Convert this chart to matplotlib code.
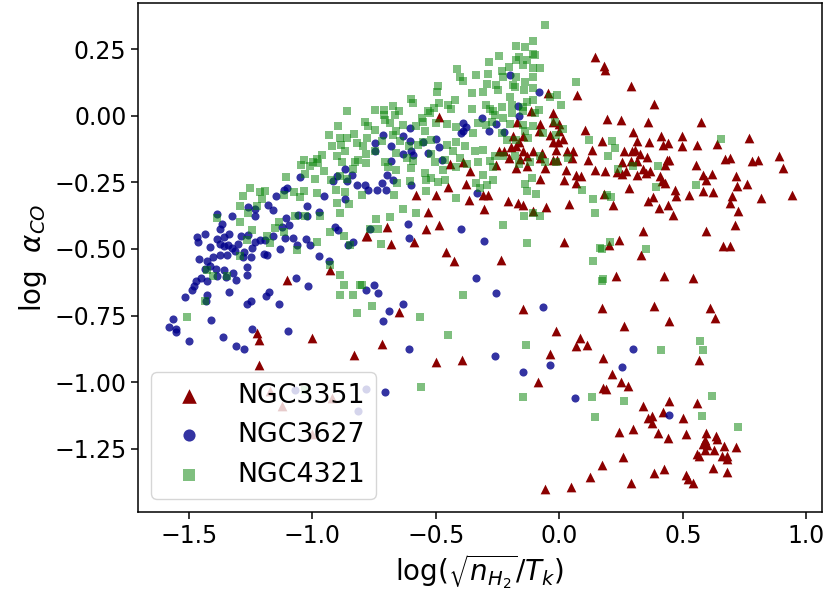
import matplotlib
matplotlib.use("Agg")
import matplotlib.pyplot as plt

# NGC3351 (triangles)
ngc3351_x = [-0.783, -0.928, -1.101, -1.225, -1.218, -1.003, -1.218, -0.831, -1.171, -1.124, -0.922, -1.003,
             -0.046, 0.072, -0.488, -0.116, -0.028, -0.028, -0.171, -0.079, -0.001, -0.082, -0.001, -0.039,
             0.015, -0.190, -0.147, -0.163, -0.025, -0.005, -0.244, -0.225, -0.198, -0.174, -0.147, -0.106,
             -0.072, -0.012, 0.029, 0.056, -0.203, -0.160, -0.133, -0.079, -0.028, -0.009, 0.049, -0.444,
             -0.392, -0.257, -0.133, -0.059, 0.026, -0.363, -0.174, -0.079, 0.069,
             0.144, 0.181, 0.185, 0.289, 0.383, 0.103, 0.132, 0.115, 0.144,
             0.191, 0.248, 0.357, 0.573, 0.299, 0.171, 0.312, 0.364, 0.410, 0.420, 0.441, 0.497,
             0.495, 0.555, 0.636, 0.769, 0.261, 0.292, 0.306, 0.326, 0.353, 0.252, 0.288, 0.312,
             0.434, 0.445, 0.427, 0.670, 0.690, 0.778, 0.805, 0.890, 0.904, 0.553, 0.184, 0.231,
             0.252, 0.269, 0.315, 0.337, 0.350, 0.366, 0.407, 0.414, 0.427, 0.582, 0.616, 0.593,
             0.715, 0.758, 0.717, 0.283, 0.180, 0.468, 0.472, 0.526, 0.580, 0.623, 0.697, 0.690,
             0.817, 0.941, 0.380, 0.360, 0.218, 0.404, 0.441, 0.461, 0.724, 0.711, 0.339, 0.593,
             0.242, 0.202, 0.329, 0.663, 0.690, 0.229, 0.423, 0.542,
             0.171, 0.383, 0.609, 0.630, 0.261, 0.443, 0.175, 0.566, 0.211, 0.248, 0.279, 0.175,
             0.188, 0.337, 0.445, 0.418, 0.360, 0.373, 0.373, 0.499, 0.555, 0.242, 0.296, 0.400,
             0.441, 0.512, 0.593, 0.589, 0.582, 0.596, 0.634, 0.639, 0.666, 0.715, 0.626, 0.589,
             0.555, 0.566, 0.657, 0.677, 0.680, 0.256, 0.171, 0.620, 0.677, 0.423, 0.383, 0.512,
             0.522, 0.542, 0.288,
             -0.581, -0.500, -0.453, -0.379, -0.365, -0.309, -0.288, -0.305, -0.534, -0.487, -0.541, -0.697,
             -0.778, -0.680, -0.589, -0.460, -0.427, -0.238, -0.207, -0.167, -0.147, -0.106, -0.055, 0.018,
             0.069, 0.089, 0.040, 0.019, -0.649, -0.149, -0.014, 0.085, 0.110, 0.069, -0.720,
             -0.500, -0.396, -0.039, -0.086, 0.123, 0.046, -0.059]
ngc3351_y = [-0.450, -0.580, -0.615, -0.815, -0.843, -0.836, -0.937, -0.899, -1.034, -1.090, -1.059, -1.196,
             0.085, 0.079, -0.003, 0.019, 0.010, -0.022, -0.022, -0.032, -0.032, -0.059, -0.057, -0.072,
             -0.087, -0.075, -0.078, -0.097, -0.097, -0.097, -0.132, -0.134, -0.119, -0.115, -0.134, -0.134,
             -0.140, -0.128, -0.134, -0.134, -0.157, -0.162, -0.153, -0.157, -0.165, -0.165, -0.157, -0.182,
             -0.172, -0.184, -0.187, -0.197, -0.203, -0.209, -0.197, -0.237, -0.222,
             0.222, 0.185, 0.172, 0.112, 0.043, -0.052, -0.127, -0.165, -0.202,
             -0.013, -0.018, -0.025, -0.023, -0.063, -0.096, -0.096, -0.100, -0.075, -0.109, -0.103, -0.075,
             -0.113, -0.109, -0.105, -0.084, -0.134, -0.134, -0.128, -0.143, -0.155, -0.175, -0.171, -0.171,
             -0.165, -0.165, -0.184, -0.163, -0.159, -0.171, -0.168, -0.153, -0.196, -0.184, -0.206, -0.213,
             -0.218, -0.209, -0.221, -0.200, -0.215, -0.209, -0.228, -0.246, -0.253, -0.221, -0.218, -0.243,
             -0.228, -0.256, -0.263, -0.271, -0.293, -0.280, -0.300, -0.296, -0.281, -0.288, -0.300, -0.328,
             -0.310, -0.298, -0.305, -0.321, -0.336, -0.346, -0.334, -0.371, -0.356, -0.409, -0.434, -0.434,
             -0.465, -0.484, -0.521, -0.488, -0.488, -0.600, -0.603, -0.609,
             -0.721, -0.713, -0.721, -0.759, -0.788, -0.771, -0.909, -0.918, -0.969, -1.000, -1.015, -1.021,
             -1.025, -1.090, -1.071, -1.113, -1.134, -1.128, -1.153, -1.134, -1.078, -1.188, -1.175, -1.190,
             -1.209, -1.193, -1.190, -1.215, -1.230, -1.234, -1.200, -1.213, -1.238, -1.243, -1.255, -1.253,
             -1.268, -1.278, -1.278, -1.278, -1.288, -1.280, -1.309, -1.321, -1.338, -1.325, -1.340, -1.350,
             -1.363, -1.378, -1.380,
             -0.299, -0.296, -0.269, -0.256, -0.315, -0.299, -0.299, -0.349, -0.361, -0.411, -0.424, -0.417,
             -0.452, -0.481, -0.474, -0.511, -0.544, -0.540, -0.321, -0.327, -0.334, -0.359, -0.342, -0.240,
             -0.252, -0.227, -0.330, -0.474, -0.737, -0.724, -0.806, -0.834, -0.859, -0.865, -0.855,
             -0.925, -0.915, -0.894, -0.999, -1.357, -1.394, -1.400]

# NGC3627 (circles)
ngc3627_x = [-0.868, -1.050, -0.901, -0.861, -0.841, -0.820, -0.915, -1.104, -1.117, -1.148, -0.955, -0.868,
             -1.023, -1.178, -1.160, -1.259, -1.232, -1.232, -1.387, -1.326, -1.059, -1.023, -0.972, -1.108,
             -1.093, -1.124, -1.367, -1.374, -1.434, -1.468, -1.465, -1.387, -1.357, -1.336, -1.290, -1.259,
             -1.212, -1.194, -1.158, -1.111, -1.077, -1.025, -1.009, -1.061, -1.131, -0.908, -0.895, -0.834,
             -0.854, -1.414, -1.376, -1.357, -1.340, -1.326, -1.300, -1.276, -1.245, -1.232, -1.198, -1.185,
             -1.249, -1.282, -1.313, -1.347, -1.374, -1.403, -1.461, -1.428, -1.414, -1.434, -1.390, -1.356,
             -1.263, -1.266, -1.322, -1.349, -1.309, -1.387, -1.425, -1.452, -1.471, -1.479, -1.488, -1.515,
             -1.428, -1.336, -1.430, -1.266, -1.249, -1.187, -1.174, -1.137, -1.066, -1.019, -0.972, -0.932,
             -1.565, -1.579, -1.552, -1.552, -1.498, -1.411, -1.363, -1.309, -1.276, -1.245, -1.097,
             -1.070, -0.783, -0.814,
             -0.201, -0.083, -0.167, -0.163, -0.315, -0.255, -0.390, -0.379, -0.390, -0.400, -0.284, -0.225,
             -0.606, -0.635, -0.716, -0.747, -0.680, -0.606, -0.554, -0.498, -0.488, -0.531, -0.599, -0.592,
             -0.635, -0.747, -0.680, -0.477, -0.697, -0.673,
             0.299, 0.252, 0.443,
             -0.599, -0.333, -0.612, -0.608, -0.399, -0.306, -0.336, -0.257, -0.066, -0.785, -0.750, -0.736,
             -0.633, -0.691, -0.716, -0.608, -0.768, -0.788, -0.774, -0.738, -0.720, -0.703,
             -0.259, -0.149, -0.039, -0.707, 0.062]
ngc3627_y = [-0.200, -0.230, -0.228, -0.246, -0.221, -0.259, -0.246, -0.271, -0.278, -0.300, -0.303, -0.313,
             -0.338, -0.334, -0.353, -0.343, -0.350, -0.375, -0.369, -0.378, -0.371, -0.375, -0.363, -0.385,
             -0.409, -0.419, -0.405, -0.425, -0.444, -0.455, -0.475, -0.463, -0.456, -0.443, -0.450, -0.446,
             -0.465, -0.468, -0.453, -0.459, -0.459, -0.463, -0.484, -0.484, -0.500, -0.418, -0.428, -0.474,
             -0.487, -0.493, -0.480, -0.488, -0.484, -0.496, -0.480, -0.513, -0.496, -0.475, -0.518, -0.521,
             -0.531, -0.530, -0.509, -0.521, -0.521, -0.530, -0.538, -0.546, -0.563, -0.575, -0.575, -0.578,
             -0.568, -0.596, -0.590, -0.605, -0.618, -0.603, -0.621, -0.609, -0.621, -0.640, -0.653, -0.680,
             -0.671, -0.663, -0.696, -0.705, -0.696, -0.675, -0.663, -0.706, -0.609, -0.640, -0.525, -0.546,
             -0.763, -0.793, -0.800, -0.811, -0.846, -0.768, -0.830, -0.863, -0.874, -0.800, -0.806,
             -1.028, -1.025, -1.109,
             0.151, 0.088, 0.037, 0.000, -0.007, -0.032, -0.028, -0.044, -0.057, -0.065, -0.057, -0.062,
             -0.047, -0.075, -0.072, -0.103, -0.115, -0.094, -0.097, -0.087, -0.119, -0.140, -0.134, -0.147,
             -0.143, -0.132, -0.169, -0.165, -0.222, -0.240,
             -0.874, -0.943, -1.124,
             -0.261, -0.290, -0.405, -0.459, -0.425, -0.471, -0.609, -0.665, -0.717, -0.655, -0.636, -0.667,
             -0.705, -0.731, -0.771, -0.877, -0.427, -0.259, -0.277, -0.277, -0.252, -0.277,
             -0.900, -0.962, -0.937, -1.038, -1.059]

# NGC4321 (squares)
ngc4321_x = [-0.861, -0.897, -0.931, -0.890, -0.861, -0.831, -0.922, -0.885, -0.868, -0.820, -0.962, -0.982,
             -0.996, -1.036, -1.047, -1.009, -0.976, -0.901, -0.881, -0.827, -0.814, -0.836, -0.783,
             -1.106, -1.032, -0.989, -0.955, -0.924, -0.888, -0.861, -0.904, -0.868, -0.982, -1.074, -1.036,
             -1.050, -1.117, -1.191, -1.212, -1.205, -1.252, -1.282, -1.293, -1.225, -1.259, -1.387, -1.293,
             -1.070, -1.029, -0.969, -0.901, -0.888, -0.850, -1.137, -1.151, -1.117, -1.245, -1.266, -1.185,
             -1.171, -0.980, -1.063, -1.293, -0.928, -0.874, -0.847, -1.428, -1.401, -1.347, -1.434, -1.506,
             -0.928, -0.890, -0.874, -0.807, -0.890, -0.836, -0.820, -1.029,
             -0.058, -0.106, -0.174, -0.140, -0.106, -0.100, -0.244, -0.163, -0.174, -0.133, -0.147, -0.284,
             -0.203, -0.106, -0.079, -0.414, -0.403, -0.392, -0.336, -0.290, -0.234, -0.228, -0.174, -0.140,
             -0.106, -0.295, -0.255, -0.187, -0.180, -0.144, -0.109, -0.491, -0.495, -0.356, -0.309, -0.248,
             0.069, -0.039, -0.009, 0.006, -0.201, -0.133, -0.106, -0.599, -0.592, -0.487, -0.423, -0.450,
             -0.440, -0.508, -0.531, -0.525, -0.673, -0.649, -0.711, -0.711, -0.747, -0.352, -0.298, -0.282,
             -0.268, -0.234, -0.194, -0.194, -0.147, -0.082, -0.149, -0.261, -0.228, -0.100, -0.558, -0.552,
             -0.666, -0.707, -0.788, -0.774, -0.747, -0.687, -0.633, -0.660, -0.579, -0.545, -0.498, -0.457,
             -0.417, -0.329, -0.349, -0.298, -0.275, -0.234, -0.201, -0.149, -0.140, -0.106, -0.068, -0.214,
             -0.174, -0.127, -0.019, 0.015, -0.012, -0.781, -0.720, -0.673, -0.646, -0.608, -0.572, -0.554,
             -0.518, -0.457, -0.417, -0.430, -0.383, -0.342, -0.309, -0.794, -0.747, -0.784, -0.660, -0.619,
             -0.592, -0.518, -0.504, -0.464, -0.403, -0.373, -0.417, -0.471, -0.329, -0.282, -0.261, -0.228,
             -0.180, -0.163, -0.120, -0.079, -0.059, -0.012, 0.036, -0.268, -0.660, -0.599, -0.545, -0.707,
             -0.693, -0.309, -0.518,
             0.214, 0.225, 0.198, 0.653, 0.400, 0.299, 0.238, 0.391, 0.553, 0.194, 0.207, 0.204,
             0.171, 0.350, 0.175, 0.120,
             0.569, 0.410, 0.582, 0.616, 0.263, 0.576, 0.724,
             -0.541, -0.491, -0.464, -0.336, -0.322, -0.271, -0.295, -0.541, -0.606, -0.657, -0.669, -0.801,
             -0.419, -0.635, -0.581, -0.687, -0.743, -0.768, -0.734, -0.723, -0.230, -0.140, -0.133, -0.113,
             -0.093, -0.144, -0.079, -0.106, -0.131, 0.093, 0.137, 0.143, 0.166, 0.137, 0.174, -0.801,
             -0.392, -0.758, -0.565, -0.450, -0.136,
             -0.562, -0.149, 0.133, 0.145]
ngc4321_y = [0.018, -0.037, -0.072, -0.084, -0.082, -0.069, -0.112, -0.109, -0.134, -0.103, -0.147, -0.162,
             -0.172, -0.165, -0.184, -0.190, -0.178, -0.153, -0.172, -0.172, -0.165, -0.199, -0.178,
             -0.230, -0.218, -0.236, -0.209, -0.240, -0.225, -0.238, -0.278, -0.286, -0.290, -0.288, -0.284,
             -0.305, -0.296, -0.284, -0.288, -0.313, -0.271, -0.303, -0.338, -0.340, -0.365, -0.384, -0.399,
             -0.377, -0.377, -0.377, -0.328, -0.365, -0.331, -0.400, -0.421, -0.438, -0.428, -0.465, -0.453,
             -0.478, -0.475, -0.505, -0.528, -0.438, -0.453, -0.484, -0.578, -0.603, -0.603, -0.696, -0.755,
             -0.559, -0.596, -0.637, -0.637, -0.671, -0.671, -0.740, -1.028,
             0.339, 0.281, 0.263, 0.256, 0.231, 0.226, 0.225, 0.222, 0.210, 0.210, 0.191, 0.200,
             0.181, 0.178, 0.178, 0.175, 0.147, 0.131, 0.151, 0.157, 0.166, 0.147, 0.147, 0.128,
             0.147, 0.118, 0.116, 0.116, 0.106, 0.097, 0.103, 0.110, 0.089, 0.085, 0.089, 0.097,
             0.126, 0.072, 0.076, 0.039, 0.072, 0.053, 0.060, 0.064, 0.047, 0.047, 0.060, 0.041,
             0.025, 0.028, 0.018, 0.010, 0.037, 0.018, 0.022, 0.003, 0.022, 0.026, 0.039, 0.026,
             0.018, 0.031, 0.041, 0.010, 0.016, 0.022, 0.031, 0.003, -0.007, 0.010, -0.009, -0.022,
             0.003, -0.015, -0.024, -0.037, -0.053, -0.028, -0.034, -0.059, -0.038, -0.059, -0.028, -0.032,
             -0.044, -0.028, -0.065, -0.034, -0.024, -0.065, -0.032, -0.034, -0.057, -0.040, -0.065, -0.090,
             -0.090, -0.084, -0.022, -0.049, -0.072, -0.084, -0.094, -0.072, -0.094, -0.115, -0.109, -0.097,
             -0.090, -0.109, -0.097, -0.134, -0.115, -0.134, -0.128, -0.115, -0.134, -0.144, -0.140, -0.159,
             -0.169, -0.144, -0.172, -0.165, -0.159, -0.182, -0.194, -0.203, -0.172, -0.169, -0.153, -0.153,
             -0.153, -0.182, -0.172, -0.153, -0.172, -0.172, -0.159, -0.194, -0.203, -0.197, -0.215, -0.172,
             -0.194, -0.222, -0.232,
             -0.096, -0.121, -0.150, -0.088, -0.188, -0.188, -0.200, -0.269, -0.261, -0.296, -0.305, -0.475,
             -0.500, -0.499, -0.613, -0.090,
             -0.844, -0.880, -0.881, -1.053, -1.071, -1.125, -1.168,
             -0.243, -0.248, -0.240, -0.252, -0.271, -0.243, -0.259, -0.281, -0.246, -0.252, -0.299, -0.299,
             -0.309, -0.350, -0.365, -0.380, -0.386, -0.424, -0.427, -0.481, -0.409, -0.256, -0.281, -0.234,
             -0.294, -0.377, -0.377, -0.365, -0.477, -0.277, -0.311, -0.365, -0.498, -0.544, -0.619, -0.634,
             -0.671, -0.715, -0.755, -0.821, -0.859,
             -1.019, -1.057, -1.057, -1.129]

fig = plt.figure(figsize=(8.31, 6.01), dpi=100)
ax = fig.add_axes([0.1661, 0.1481, 0.8231, 0.8474])

ax.scatter(ngc3351_x, ngc3351_y, marker='^', s=49, color='darkred', linewidths=0, label='NGC3351')
ax.scatter(ngc3627_x, ngc3627_y, marker='o', s=34, color='darkblue', alpha=0.8, linewidths=0, label='NGC3627')
ax.scatter(ngc4321_x, ngc4321_y, marker='s', s=28, color='green', alpha=0.5, linewidths=0, label='NGC4321')

ax.set_xlim(-1.706, 1.063)
ax.set_ylim(-1.487, 0.424)
ax.set_xticks([-1.5, -1.0, -0.5, 0.0, 0.5, 1.0])
ax.set_yticks([0.25, 0.0, -0.25, -0.5, -0.75, -1.0, -1.25])
ax.tick_params(labelsize=17, length=4.8, width=1.1)
for sp in ax.spines.values():
    sp.set_linewidth(1.1)

ax.set_xlabel(r'log($\sqrt{n_{H_2}}/T_k$)', fontsize=20)
ax.set_ylabel(r'log  $\alpha_{CO}$', fontsize=20)

ax.legend(loc='lower left', fontsize=19.3, markerscale=1.5)

fig.savefig('out.png', dpi=100)
